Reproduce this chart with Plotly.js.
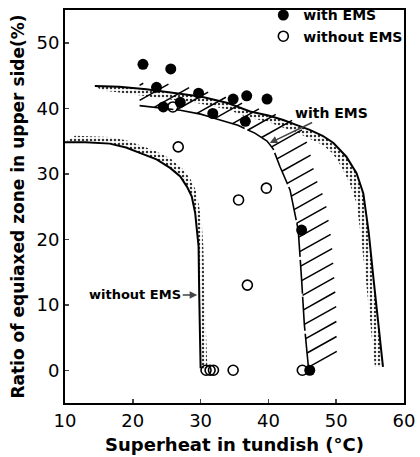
<!DOCTYPE html>
<html>
<head>
<meta charset="utf-8">
<script src="https://cdn.plot.ly/plotly-3.0.1.min.js"></script>
<style>html,body{margin:0;padding:0;background:#fff}#chart{width:420px;height:457px}</style>
</head>
<body>
<div id="chart"></div>
<script>
// Measured points
const withEmsX = [21.5, 25.6, 23.5, 24.5, 27.0, 29.7, 31.8, 34.8, 36.8, 36.6, 39.8, 44.9, 46.1];
const withEmsY = [46.7, 46.0, 43.2, 40.2, 40.9, 42.3, 39.2, 41.4, 41.9, 38.0, 41.4, 21.4, 0.0];
const withoutEmsX = [25.9, 26.7, 35.6, 39.7, 36.9, 30.8, 31.4, 31.9, 34.8, 45.0];
const withoutEmsY = [40.2, 34.1, 26.0, 27.8, 13.0, 0.0, 0.0, 0.0, 0.0, 0.0];

// Without-EMS boundary (solid line) and outer edge of its stippled band
const noEmsLineX = [10, 13, 16.6, 19, 21.5, 23.5, 25.5, 27, 28, 28.7, 29.2, 29.5, 29.7, 29.8, 29.9, 30.0];
const noEmsLineY = [34.8, 34.8, 34.6, 34.0, 33.0, 32.2, 30.9, 29.6, 28.0, 26.5, 24.0, 21.5, 18.9, 11.3, 5.0, 0.3];
const noEmsBandX = [11.5, 13, 16.6, 19, 21.5, 23.5, 25.7, 27.3, 28.5, 29.3, 29.8, 30.2, 30.4, 30.6, 30.8, 31.0];
const noEmsBandY = [35.8, 35.8, 35.6, 35.1, 34.2, 33.4, 32.2, 30.8, 29.2, 27.5, 25.0, 22.0, 19.0, 11.3, 5.0, 0.3];

// With-EMS outer boundary (solid line) and inner edge of its stippled band
const emsOuterX = [14.4, 18, 22, 26, 30, 34, 37.3, 40, 42.2, 44, 46.1, 48, 49.6, 51.5, 53, 54, 54.8, 55.5, 56.2, 56.9];
const emsOuterY = [43.4, 43.3, 42.9, 42.4, 41.8, 40.8, 39.5, 38.9, 38.2, 37.5, 36.7, 35.8, 34.7, 32.6, 30.1, 27.0, 21.0, 14.0, 7.0, 0.5];
const emsBandX = [15.5, 18, 22, 26, 30, 34, 37, 40, 42, 44, 46, 48, 49.5, 50.8, 52, 53, 53.7, 54.4, 55.1, 55.7];
const emsBandY = [42.7, 42.4, 41.9, 41.3, 40.7, 39.8, 38.6, 37.9, 37.1, 36.4, 35.4, 34.4, 33.1, 31.0, 28.5, 25.5, 20.0, 13.5, 7.0, 0.5];

// With-EMS inner boundary and edges of the hatched zone
const emsInnerX = [21, 24, 27, 30, 33, 35.5, 38, 39.8, 40.7, 41.7, 43.2, 44.4, 44.9, 45.3, 45.9];
const emsInnerY = [40.4, 40.1, 39.7, 39.1, 38.2, 37.4, 36.2, 35.0, 33.8, 31.1, 27.5, 21.4, 13.8, 7.0, 0.5];
const hatchEdgeX = [45.9, 50.1, 50.0, 49.3, 48.4, 47.3, 46.6, 46.0, 44.5];
const hatchEdgeY = [0.5, 1.5, 10, 20, 26, 28.5, 31, 34, 37.8];
const hatchTopX = [42.2, 40, 37.3, 34, 30, 26, 22, 21];
const hatchTopY = [38.6, 39.5, 40.3, 41.6, 42.8, 43.6, 44.0, 43.6];

const xTicks = [10, 20, 30, 40, 50, 60];
const yTicks = [0, 10, 20, 30, 40, 50];

const FONT = "DejaVu Sans, sans-serif";

function band(ax, ay, bx, by) {
  return {x: ax.concat(bx.slice().reverse()), y: ay.concat(by.slice().reverse())};
}
const noEmsPoly = band(noEmsLineX, noEmsLineY, noEmsBandX, noEmsBandY);
const emsPoly = band(emsOuterX, emsOuterY, emsBandX, emsBandY);

// hatch polygon (closed)
const polyX = emsInnerX.concat(hatchEdgeX, hatchTopX, [emsInnerX[0]]);
const polyY = emsInnerY.concat(hatchEdgeY, hatchTopY, [emsInnerY[0]]);

// clip parallel hatch lines y = m*x + c against the polygon
const hatchSlope = 0.58, hatchStep = 2.3;
const hx = [], hy = [];
(function () {
  const cs = polyX.map((x, i) => polyY[i] - hatchSlope * x);
  const cmin = Math.min(...cs), cmax = Math.max(...cs);
  for (let c = cmin + hatchStep * 0.6; c < cmax; c += hatchStep) {
    const pts = [];
    for (let i = 0; i < polyX.length - 1; i++) {
      const f1 = polyY[i] - hatchSlope * polyX[i] - c;
      const f2 = polyY[i + 1] - hatchSlope * polyX[i + 1] - c;
      if ((f1 < 0 && f2 >= 0) || (f1 >= 0 && f2 < 0)) {
        const t = f1 / (f1 - f2);
        pts.push(polyX[i] + t * (polyX[i + 1] - polyX[i]));
      }
    }
    pts.sort((a, b) => a - b);
    for (let k = 0; k + 1 < pts.length; k += 2) {
      hx.push(pts[k], pts[k + 1], null);
      hy.push(hatchSlope * pts[k] + c, hatchSlope * pts[k + 1] + c, null);
    }
  }
})();

const traces = [
  {x: noEmsPoly.x, y: noEmsPoly.y, mode: 'lines', fill: 'toself', line: {width: 0}, fillcolor: 'rgba(0,0,0,0)',
   fillpattern: {shape: '.', fgcolor: '#333', size: 4, solidity: 0.3}, showlegend: false, hoverinfo: 'skip'},
  {x: noEmsLineX, y: noEmsLineY, mode: 'lines', line: {color: '#000', width: 2}, showlegend: false, hoverinfo: 'skip'},
  {x: emsPoly.x, y: emsPoly.y, mode: 'lines', fill: 'toself', line: {width: 0}, fillcolor: 'rgba(0,0,0,0)',
   fillpattern: {shape: '.', fgcolor: '#333', size: 4, solidity: 0.3}, showlegend: false, hoverinfo: 'skip'},
  {x: emsOuterX, y: emsOuterY, mode: 'lines', line: {color: '#000', width: 2}, showlegend: false, hoverinfo: 'skip'},
  {x: hx, y: hy, mode: 'lines', line: {color: '#000', width: 1.5}, connectgaps: false, showlegend: false, hoverinfo: 'skip'},
  {x: emsInnerX, y: emsInnerY, mode: 'lines', line: {color: '#000', width: 1.6, dash: '34px,3px'}, showlegend: false, hoverinfo: 'skip'},
  {x: withEmsX, y: withEmsY, mode: 'markers', name: 'with EMS',
   marker: {symbol: 'circle', size: 11, color: '#000', line: {color: '#000', width: 0}}},
  {x: withoutEmsX, y: withoutEmsY, mode: 'markers', name: 'without EMS',
   marker: {symbol: 'circle-open', size: 10, color: '#000', line: {color: '#000', width: 1.6}}}
];

const layout = {
  width: 420, height: 457,
  margin: {l: 65, r: 16, t: 10, b: 54, autoexpand: false},
  paper_bgcolor: '#fff', plot_bgcolor: '#fff',
  font: {family: FONT, color: '#000'},
  showlegend: true,
  legend: {x: 0.585, y: 1.027, xanchor: 'left', yanchor: 'top', bgcolor: 'rgba(0,0,0,0)',
           font: {family: FONT, size: 14, color: '#000', weight: 'bold'}, itemwidth: 30, tracegroupgap: 0},
  xaxis: {range: [10, 60], tickvals: xTicks, ticktext: xTicks.map(String), ticks: 'inside', ticklen: 4, tickwidth: 1.5,
          showgrid: false, zeroline: false, showline: true, linewidth: 2, linecolor: '#000', mirror: true, automargin: false,
          tickfont: {family: FONT, size: 18, color: '#000'},
          title: {text: 'Superheat in tundish (°C)', font: {family: FONT, size: 18, color: '#000', weight: 'bold'}, standoff: 9}},
  yaxis: {range: [-5, 55], tickvals: yTicks, ticktext: yTicks.map(String), ticks: 'inside', ticklen: 4, tickwidth: 1.5,
          showgrid: false, zeroline: false, showline: true, linewidth: 2, linecolor: '#000', mirror: true, automargin: false,
          tickfont: {family: FONT, size: 18, color: '#000'},
          title: {text: 'Ratio of equiaxed zone in upper side(%)', font: {family: FONT, size: 17, color: '#000', weight: 'bold'}, standoff: 8}},
  annotations: [
    {x: 29.5, y: 11.5, xref: 'x', yref: 'y', text: 'without EMS', showarrow: true, arrowhead: 2, arrowsize: 1, arrowwidth: 1.5,
     ax: -62, ay: 0, font: {family: FONT, size: 13, color: '#000', weight: 'bold'}},
    {x: 40.2, y: 34.7, xref: 'x', yref: 'y', text: 'with EMS', showarrow: true, arrowhead: 2, arrowsize: 1, arrowwidth: 1.5,
     ax: 62, ay: -30, font: {family: FONT, size: 14, color: '#000', weight: 'bold'}}
  ]
};

Plotly.newPlot('chart', traces, layout, {displayModeBar: false, staticPlot: true});
</script>
</body>
</html>
